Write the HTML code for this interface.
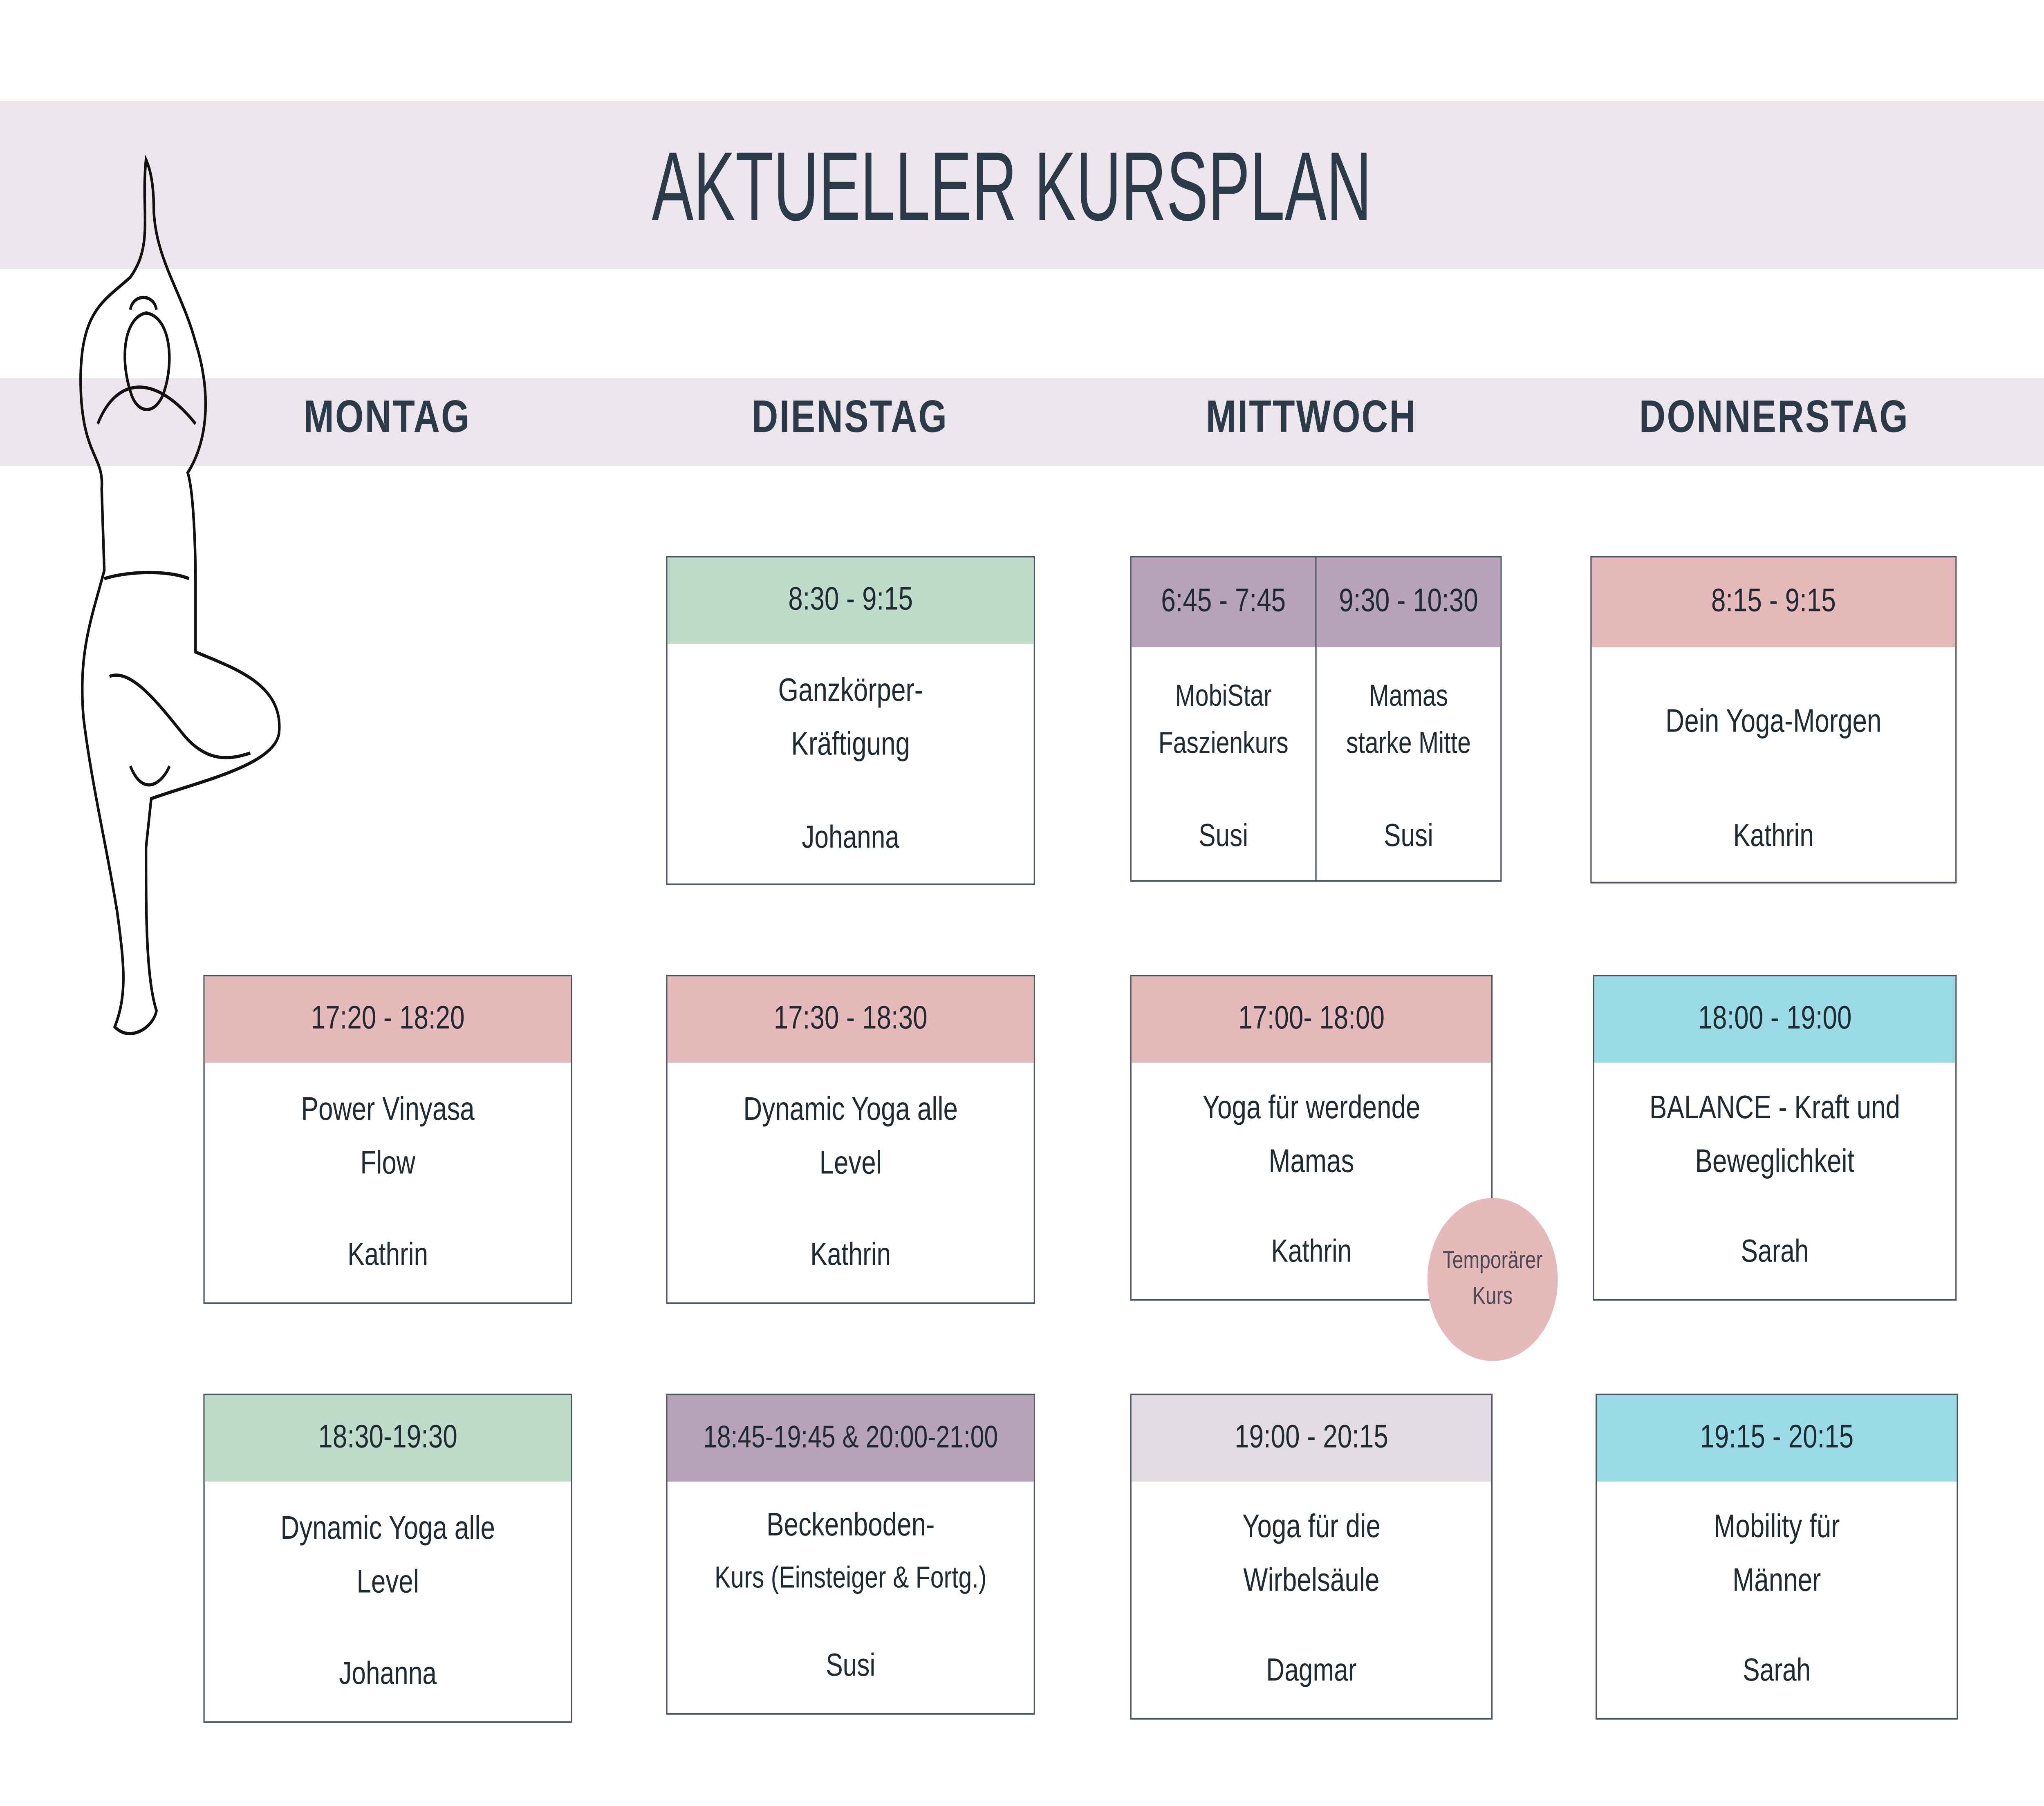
<!DOCTYPE html>
<html><head><meta charset="utf-8"><style>
html,body{margin:0;padding:0;background:#fff;overflow:hidden;}
#s{position:fixed;left:0;top:0;width:100vw;height:100vh;display:block;}
#c{position:relative;width:1568px;height:1108px;font-family:"Liberation Sans","DejaVu Sans",sans-serif;color:#1f2a33;background:#fff;}
.band{position:absolute;left:0;width:1568px;background:#ece6ec;}
.day{position:absolute;top:240px;width:300px;margin-left:-150px;text-align:center;font-weight:bold;font-size:28px;color:#2a3a48;letter-spacing:1px;}
.card{position:absolute;border:1px solid #4a5560;background:#fff;box-sizing:border-box;text-align:center;}
.h{position:absolute;left:0;right:0;top:0;height:53px;line-height:53px;font-size:20px;}
.t{position:absolute;left:0;right:0;font-size:20px;line-height:33px;}
.n{position:absolute;left:0;right:0;font-size:19.5px;}
.g{background:#bfdccb}.p{background:#e6b9ba}.v{background:#b7a3b8}.b{background:#9bdbe6}.l{background:#e3dbe2}
</style></head><body>
<svg id="s" viewBox="0 0 1568 1108" preserveAspectRatio="none" xmlns="http://www.w3.org/2000/svg">
<foreignObject x="0" y="0" width="1568" height="1108">
<div xmlns="http://www.w3.org/1999/xhtml" id="c">
<div class="band" style="top:62px;height:103px"></div>
<div style="position:absolute;top:80px;left:0;width:1552px;text-align:center;"><span style="display:inline-block;font-size:60px;color:#2a3a48;transform:scaleX(0.8)">AKTUELLER KURSPLAN</span></div>
<div class="band" style="top:232px;height:54px"></div>
<div class="day" style="left:297px">MONTAG</div>
<div class="day" style="left:652px">DIENSTAG</div>
<div class="day" style="left:1006px">MITTWOCH</div>
<div class="day" style="left:1361px">DONNERSTAG</div>

<svg style="position:absolute;left:0;top:0" width="260" height="650" fill="none" stroke="#111" stroke-width="2" xmlns="http://www.w3.org/2000/svg">
<path d="M112 98 C108 130 118 150 100 170 C80 185 60 190 62 240 C64 280 80 280 78 300 L80 350 C70 380 60 400 64 440 C70 480 82 520 90 560 C95 590 98 610 88 630 C100 640 118 630 120 620 C112 600 112 560 112 520 L116 490 C150 480 210 470 214 450 C218 420 180 410 150 400 L150 360 C150 330 148 300 144 290 C160 270 162 240 150 210 C140 180 120 160 118 130 C118 115 116 105 112 98 Z"/>
<path d="M100 240 C92 220 95 195 112 192 C130 194 134 220 126 240 C120 255 105 255 100 240 Z"/>
<path d="M100 190 C102 180 118 180 120 190"/>
<path d="M80 355 C100 350 130 350 145 355"/>
<path d="M84 415 C100 410 120 430 140 450 C160 470 180 465 192 462"/>
<path d="M100 470 C110 490 125 480 130 470"/>
<path d="M75 260 C90 230 120 230 150 260"/>
</svg>

<div class="card" style="left:511px;top:341px;width:283px;height:202px"><div class="h g">8:30 - 9:15</div><div class="t" style="top:66px">Ganzkörper-<br/>Kräftigung</div><div class="n" style="top:161px">Johanna</div></div>
<div class="card" style="left:867px;top:341px;width:143px;height:200px"><div class="h v" style="height:55px;line-height:55px">6:45 - 7:45</div><div class="t" style="top:70px;font-size:18.5px;line-height:29px">MobiStar<br/>Faszienkurs</div><div class="n" style="top:160px">Susi</div></div>
<div class="card" style="left:1009px;top:341px;width:143px;height:200px"><div class="h v" style="height:55px;line-height:55px">9:30 - 10:30</div><div class="t" style="top:70px;font-size:18.5px;line-height:29px">Mamas<br/>starke Mitte</div><div class="n" style="top:160px">Susi</div></div>
<div class="card" style="left:1220px;top:341px;width:281px;height:201px"><div class="h p" style="height:55px;line-height:55px">8:15 - 9:15</div><div class="t" style="top:85px">Dein Yoga-Morgen</div><div class="n" style="top:160px">Kathrin</div></div>

<div class="card" style="left:156px;top:598px;width:283px;height:202px"><div class="h p">17:20 - 18:20</div><div class="t" style="top:66px">Power Vinyasa<br/>Flow</div><div class="n" style="top:160px">Kathrin</div></div>
<div class="card" style="left:511px;top:598px;width:283px;height:202px"><div class="h p">17:30 - 18:30</div><div class="t" style="top:66px">Dynamic Yoga alle<br/>Level</div><div class="n" style="top:160px">Kathrin</div></div>
<div class="card" style="left:867px;top:598px;width:278px;height:200px"><div class="h p">17:00- 18:00</div><div class="t" style="top:65px">Yoga  für werdende<br/>Mamas</div><div class="n" style="top:158px">Kathrin</div></div>
<div class="card" style="left:1222px;top:598px;width:279px;height:200px"><div class="h b">18:00 - 19:00</div><div class="t" style="top:65px">BALANCE - Kraft und<br/>Beweglichkeit</div><div class="n" style="top:158px">Sarah</div></div>
<div style="position:absolute;left:1095px;top:735px;width:100px;height:100px;border-radius:50%;background:#e6b9ba;text-align:center;font-size:15px;line-height:22px;color:#4a4a55;box-sizing:border-box;padding-top:28px">Temporärer<br/>Kurs</div>

<div class="card" style="left:156px;top:855px;width:283px;height:202px"><div class="h g">18:30-19:30</div><div class="t" style="top:66px">Dynamic Yoga alle<br/>Level</div><div class="n" style="top:160px">Johanna</div></div>
<div class="card" style="left:511px;top:855px;width:283px;height:197px"><div class="h v" style="font-size:19px">18:45-19:45 &amp; 20:00-21:00</div><div class="t" style="top:65px;line-height:31px">Beckenboden-<br/><span style="font-size:18.5px">Kurs (Einsteiger &amp; Fortg.)</span></div><div class="n" style="top:155px">Susi</div></div>
<div class="card" style="left:867px;top:855px;width:278px;height:200px"><div class="h l">19:00 - 20:15</div><div class="t" style="top:65px">Yoga für die<br/>Wirbelsäule</div><div class="n" style="top:158px">Dagmar</div></div>
<div class="card" style="left:1224px;top:855px;width:278px;height:200px"><div class="h b">19:15 - 20:15</div><div class="t" style="top:65px">Mobility für<br/>Männer</div><div class="n" style="top:158px">Sarah</div></div>
</div>
</foreignObject>
</svg>
</body></html>
